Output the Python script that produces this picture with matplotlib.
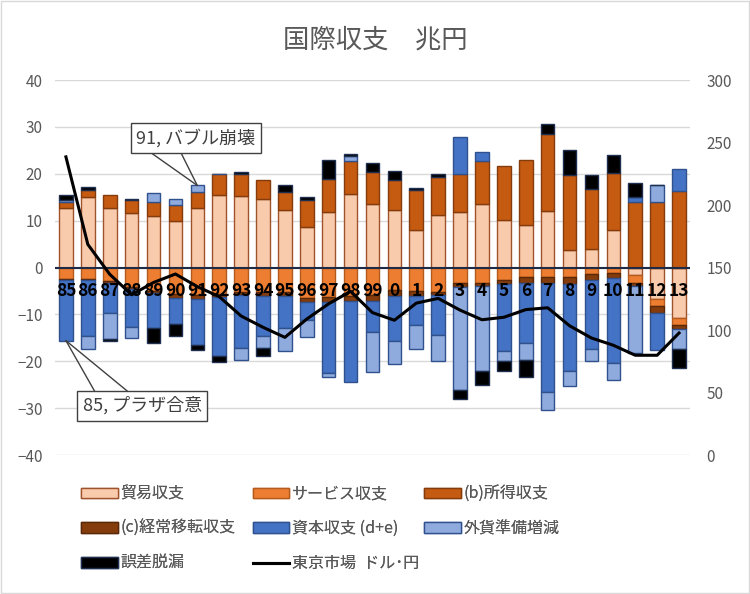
import matplotlib
matplotlib.use('Agg')
import matplotlib.pyplot as plt
import numpy as np
from matplotlib.patches import Patch, Rectangle
from matplotlib.lines import Line2D

plt.rcParams['font.family'] = ['Noto Sans CJK JP', 'DejaVu Sans']

years = ['85', '86', '87', '88', '89', '90', '91', '92', '93', '94', '95', '96', '97', '98', '99',
         '0', '1', '2', '3', '4', '5', '6', '7', '8', '9', '10', '11', '12', '13']

trade = [12.6, 15.0, 12.8, 11.6, 10.9, 9.9, 12.6, 15.5, 15.2, 14.7, 12.2, 8.6, 11.8, 15.7, 13.5,
         12.2, 8.1, 11.3, 11.8, 13.5, 10.2, 9.1, 12.1, 3.8, 4.0, 8.0, -1.6, -6.8, -10.7]
services = [-2.4, -2.4, -2.8, -4.1, -5.1, -5.7, -5.8, -5.7, -5.2, -5.3, -5.3, -6.4, -6.2, -6.0, -5.8,
            -4.9, -5.1, -5.2, -3.4, -3.2, -2.6, -2.1, -2.1, -2.1, -1.4, -1.1, -1.6, -1.5, -1.5]
income = [1.4, 1.5, 2.6, 2.7, 3.1, 3.5, 3.6, 4.4, 4.7, 4.0, 4.0, 5.9, 7.1, 7.1, 6.9,
          6.5, 8.4, 8.1, 8.1, 9.3, 11.4, 13.9, 16.3, 16.0, 12.7, 12.2, 14.0, 14.0, 16.3]
transfers = [-0.2, -0.2, -0.4, -0.4, -0.4, -0.8, -1.0, -0.6, -0.6, -0.7, -0.8, -1.0, -1.1, -1.2, -1.4,
             -1.1, -1.0, -0.6, -0.8, -0.8, -0.9, -1.2, -1.3, -1.4, -1.2, -1.1, -0.8, -1.4, -1.0]
capital = [-13.0, -12.0, -6.6, -8.1, -7.5, -5.5, -9.7, -12.6, -11.3, -8.6, -6.7, -3.7, -15.3, -17.3, -6.5,
           -9.7, -6.2, -8.5, 8.0, 1.8, -14.3, -12.7, -23.1, -18.6, -14.8, -18.2, 1.1, -7.8, 4.8]
reserves = [0.4, -2.7, -5.5, -2.4, 2.0, 1.3, 1.3, 0.0, -2.7, -2.5, -5.1, -3.8, -0.7, 0.9, -8.6,
            -4.9, -5.0, -5.6, -21.9, -18.1, -2.1, -3.8, -3.9, -3.1, -2.6, -3.5, -14.2, 3.7, -4.2]
errors = [1.0, 0.6, -0.4, 0.4, -3.2, -2.6, -1.1, -1.2, 0.5, -1.8, 1.5, 0.5, 4.1, 0.6, 1.9,
          1.9, 0.5, 0.5, -1.9, -2.9, -2.2, -3.5, 2.2, 5.2, 3.0, 3.9, 3.0, 0.0, -4.0]
usdjpy = [238.5, 168.5, 144.6, 128.2, 138.0, 144.8, 134.7, 126.7, 111.2, 102.2, 94.1, 108.8, 121.0, 130.9, 113.9,
          107.8, 121.5, 125.3, 115.9, 108.2, 110.2, 116.3, 117.8, 103.4, 93.6, 87.8, 79.8, 79.8, 97.6]

labels = ['貿易収支', 'サービス収支', '(b)所得収支', '(c)経常移転収支',
          '資本収支 (d+e)', '外貨準備増減', '誤差脱漏']
line_label = '東京市場  ドル･円'
fills = ['#F8CBAD', '#ED7D31', '#C55A11', '#843C0C', '#4472C4', '#8FAADC', '#000000']
edges = ['#A0522D', '#B35A1F', '#843C0C', '#5A2808', '#2F528F', '#2F528F', '#1F2F4F']

txt = '#595959'
callout_c = '#404040'

fig = plt.figure(figsize=(7.5, 5.94), dpi=100)
ax = fig.add_axes([0.0733, 0.234, 0.8467, 0.6313])
ax2 = ax.twinx()

x = np.arange(len(years))
pos = np.zeros(len(years))
neg = np.zeros(len(years))
handles = []
for vals, lab, fc, ec in zip([trade, services, income, transfers, capital, reserves, errors],
                             labels, fills, edges):
    v = np.array(vals, dtype=float)
    bottom = np.where(v >= 0, pos, neg)
    ax.bar(x, v, 0.62, bottom=bottom, color=fc, edgecolor=ec, linewidth=1.0, zorder=2)
    pos += np.where(v > 0, v, 0)
    neg += np.where(v < 0, v, 0)
    handles.append(Patch(facecolor=fc, edgecolor=ec, linewidth=1.0, label=lab))

ax.set_xlim(-0.5, len(years) - 0.5)
ax.set_ylim(-40, 40)
ax.set_yticks(np.arange(-40, 41, 10))
ax.grid(axis='y', color='#D9D9D9', linewidth=1, zorder=0)
ax.set_axisbelow(True)
ax.axhline(0, color='#1F2A44', linewidth=1.5, zorder=3)
ax.set_xticks([])
for s in ax.spines.values():
    s.set_visible(False)
for s in ax2.spines.values():
    s.set_visible(False)
ax.tick_params(axis='y', length=0, pad=9, labelsize=11, labelcolor=txt)

for i, yl in enumerate(years):
    ax.text(i, -5.1, yl, ha='center', va='center', fontsize=12.5, fontweight='bold',
            color='black', zorder=5)

ax2.plot(x, usdjpy, color='black', linewidth=2.2, zorder=4)
ax2.set_ylim(0, 300)
ax2.set_yticks(np.arange(0, 301, 50))
ax2.tick_params(axis='y', length=0, pad=12, labelsize=11, labelcolor=txt)
ax2.set_xlim(-0.5, len(years) - 0.5)

# callouts (Excel-style: two lines from the point to the box edge, then the box)
def callout(text, xi, yv, box_off, edge_offs):
    tip = (xi, yv)
    for off in edge_offs:
        ax.annotate('', xy=tip, xycoords='data', xytext=off, textcoords='offset points',
                    arrowprops=dict(arrowstyle='-', color=callout_c, lw=1,
                                    shrinkA=0, shrinkB=0), zorder=6,
                    annotation_clip=False)
    ax.annotate(text, xy=tip, xycoords='data', xytext=box_off, textcoords='offset points',
                ha='center', va='center', fontsize=13, color=callout_c,
                bbox=dict(boxstyle='square,pad=0.3', fc='white', ec=callout_c, lw=1),
                zorder=7, annotation_clip=False)

i91 = years.index('91')
callout('91, バブル崩壊', i91, pos[i91], (-1, 34), [(-34, 24), (-12, 24)])
i85 = years.index('85')
callout('85, プラザ合意', i85, neg[i85], (55, -47), [(21, -37), (45, -37)])

fig.text(0.5, 0.932, '国際収支　兆円', ha='center', va='center', fontsize=19, color=txt)

line_handle = Line2D([0], [0], color='black', linewidth=2.2, label=line_label)
cols = [[handles[0], handles[3], handles[6]],
        [handles[1], handles[4], line_handle],
        [handles[2], handles[5]]]
col_x = [0.108, 0.337, 0.566]
for cx, hs in zip(col_x, cols):
    lg = fig.legend(handles=hs, loc='upper left', bbox_to_anchor=(cx, 0.183), frameon=False,
                    fontsize=11.5, handlelength=2.3, handleheight=0.6, handletextpad=0.15,
                    labelspacing=1.12, borderaxespad=0, borderpad=0, labelcolor=txt)
    fig.add_artist(lg)

fig.add_artist(Rectangle((0.001, 0.001), 0.998, 0.998, transform=fig.transFigure,
                         fill=False, ec='#D9D9D9', lw=1))

fig.savefig('out.png', dpi=100)
